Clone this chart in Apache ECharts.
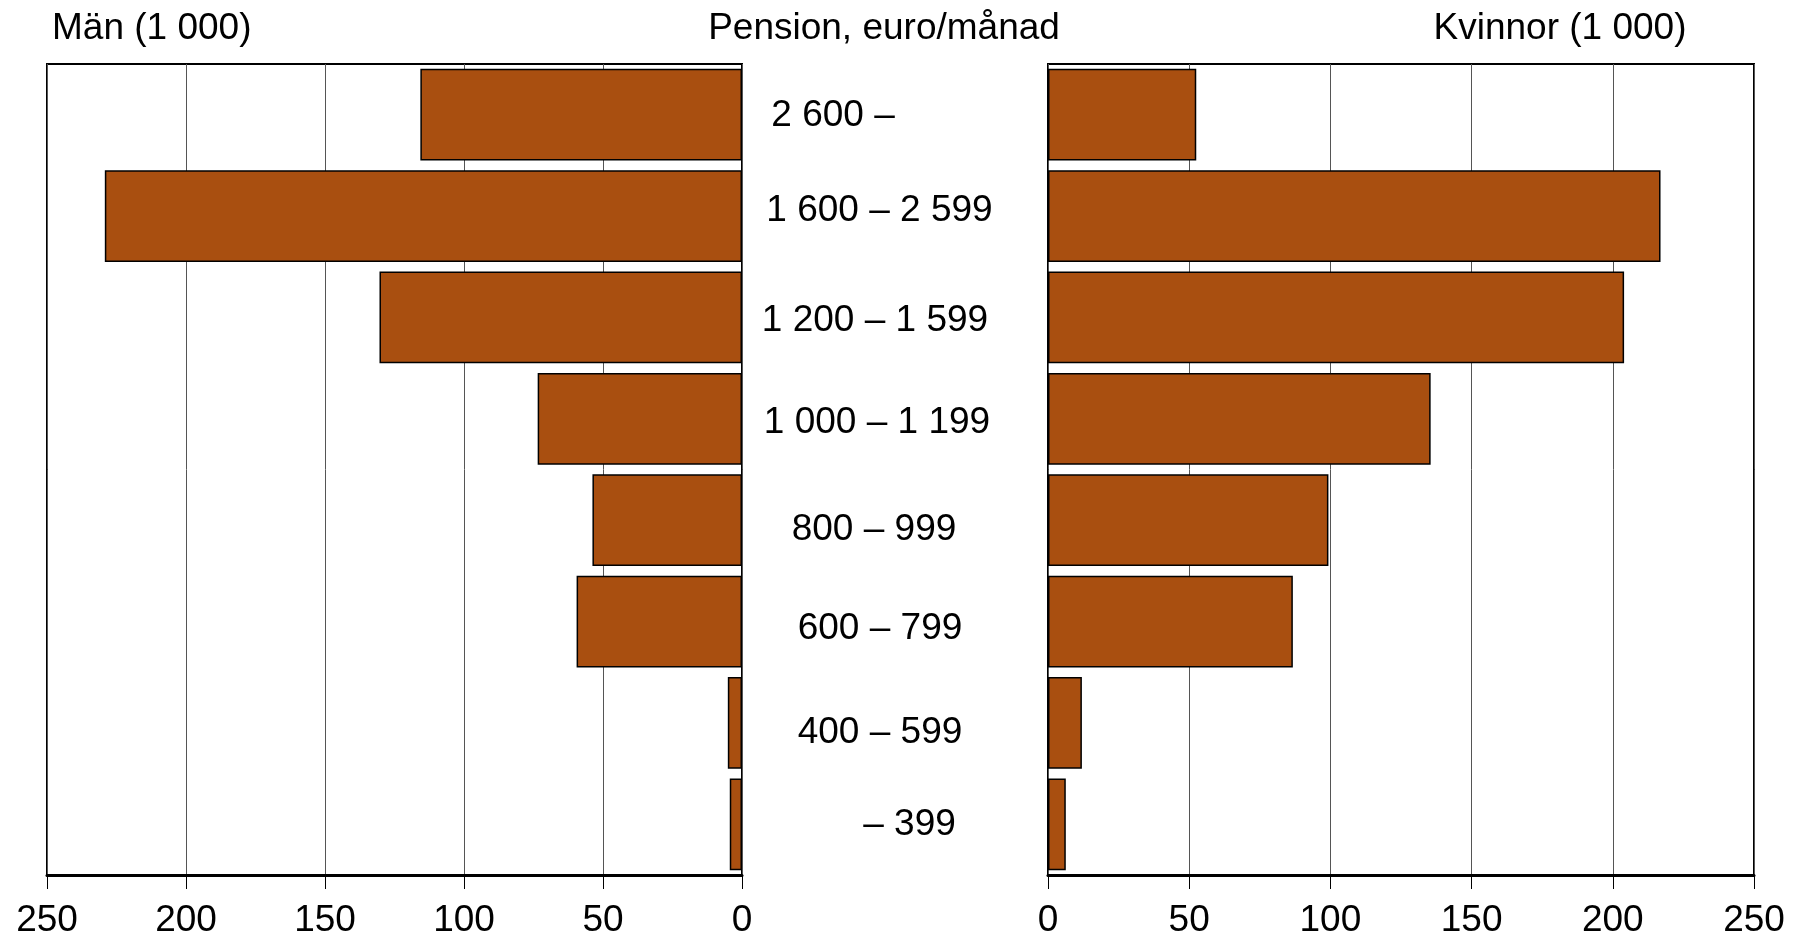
<!DOCTYPE html>
<html>
<head>
<meta charset="utf-8">
<script src="https://cdn.jsdelivr.net/npm/echarts@6/dist/echarts.min.js"></script>
<style>
html,body{margin:0;padding:0;background:#fff;}
#chart{width:1794px;height:939px;}
</style>
</head>
<body>
<div id="chart"></div>
<script>
// ---- data ----
var categories = ['2 600 –', '1 600 – 2 599', '1 200 – 1 599', '1 000 – 1 199', '800 – 999', '600 – 799', '400 – 599', '– 399'];
var menValues = [115.7, 229.2, 130.4, 73.5, 53.8, 59.5, 5.1, 4.4];
var womenValues = [52.5, 216.9, 204.0, 135.5, 99.3, 86.7, 12.0, 6.3];
var tickValues = [0, 50, 100, 150, 200, 250];
var titleMen = 'Män (1 000)';
var titleMiddle = 'Pension, euro/månad';
var titleWomen = 'Kvinnor (1 000)';

// ---- styling ----
var FONT = '"Liberation Sans", Arial, sans-serif';
var FS = 37;
var BAR = '#A94F10';
// label nudges [dx, dy] relative to centered position
var labelNudge = [[-45,1.5],[1.5,-5.5],[-3,3.5],[-1,3.5],[-4,10],[2,7.5],[2,10],[31.5,0.5]];
var rich = {};
labelNudge.forEach(function(n, i){
  var dx = n[0], dy = n[1];
  rich['r'+i] = {
    fontSize: FS, fontFamily: FONT, color: '#000',
    padding: [Math.max(0,2*dy), Math.max(0,-2*dx), Math.max(0,-2*dy), Math.max(0,2*dx)]
  };
});

var chart = echarts.init(document.getElementById('chart'), null, {renderer:'canvas'});

function xAxisCfg(gridIndex, inverse){
  return {
    type: 'value', gridIndex: gridIndex, inverse: inverse,
    min: 0, max: 250, interval: 50,
    axisLine: {show: true, lineStyle: {color: '#000', width: 3}},
    axisTick: {show: true, inside: false, length: 14, lineStyle: {color: '#000', width: 1}},
    axisLabel: {
      fontSize: FS, fontFamily: FONT, color: '#000', margin: 27,
      formatter: function(v){ return tickValues.indexOf(v) >= 0 ? String(v) : ''; }
    },
    splitLine: {show: true, lineStyle: {color: '#555', width: 1}}
  };
}

var option = {
  backgroundColor: '#fff',
  animation: false,
  title: [
    {text: titleMen, left: 47, top: 5, textStyle: {fontSize: FS, fontWeight: 'normal', fontFamily: FONT, color: '#000'}},
    {text: titleMiddle, left: 879, top: 5, textAlign: 'center', textStyle: {fontSize: FS, fontWeight: 'normal', fontFamily: FONT, color: '#000'}},
    {text: titleWomen, left: 1555, top: 5, textAlign: 'center', textStyle: {fontSize: FS, fontWeight: 'normal', fontFamily: FONT, color: '#000'}}
  ],
  grid: [
    {left: 47, right: 1052, top: 64, bottom: 64, show: true, borderColor: '#000', borderWidth: 2, backgroundColor: 'transparent'},
    {left: 1048, right: 40, top: 64, bottom: 64, show: true, borderColor: '#000', borderWidth: 2, backgroundColor: 'transparent'}
  ],
  xAxis: [xAxisCfg(0, true), xAxisCfg(1, false)],
  yAxis: [
    {
      type: 'category', gridIndex: 0, data: categories, inverse: true, position: 'right',
      axisLine: {show: false}, axisTick: {show: false}, splitLine: {show: false},
      axisLabel: {
        show: true, align: 'center', margin: 136,
        fontSize: FS, fontFamily: FONT, color: '#000',
        formatter: function(v, i){ return '{r' + i + '|' + v + '}'; },
        rich: rich
      }
    },
    {
      type: 'category', gridIndex: 1, data: categories, inverse: true,
      axisLine: {show: false}, axisTick: {show: false}, splitLine: {show: false},
      axisLabel: {show: false}
    }
  ],
  series: [
    {
      name: 'Män', type: 'bar', xAxisIndex: 0, yAxisIndex: 0, data: menValues,
      barCategoryGap: '9.5%',
      itemStyle: {color: BAR, borderColor: '#000', borderWidth: 1.5}
    },
    {
      name: 'Kvinnor', type: 'bar', xAxisIndex: 1, yAxisIndex: 1, data: womenValues,
      barCategoryGap: '9.5%',
      itemStyle: {color: BAR, borderColor: '#000', borderWidth: 1.5}
    }
  ]
};
chart.setOption(option);
</script>
</body>
</html>
